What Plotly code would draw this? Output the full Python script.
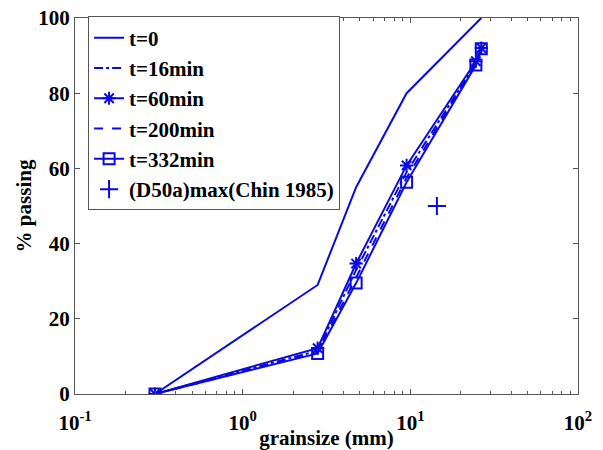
import plotly.graph_objects as go

# grain sizes (mm)
x_t0 = [0.3, 2.8, 4.75, 9.5, 26.5]
y_t0 = [0, 29, 55, 80, 100]

x_g = [0.3, 2.8, 4.75, 9.5, 24.6, 26.5]
y_t16 = [0, 11.5, 33.0, 59.0, 88.0, 91.8]
y_t60 = [0, 12.2, 34.7, 60.8, 88.5, 92.0]
y_t200 = [0, 11.0, 31.0, 57.5, 87.8, 91.5]
y_t332 = [0, 10.8, 29.5, 56.3, 87.5, 91.8]

x_chin = [14.4]
y_chin = [50]

blue = "#0a0ae0"
font_fam = "Liberation Serif"
fs = 21

fig = go.Figure()
fig.add_trace(go.Scatter(x=x_t0, y=y_t0, mode="lines", name="<b>t=0</b>",
                         line=dict(color=blue, width=2)))
fig.add_trace(go.Scatter(x=x_g, y=y_t16, mode="lines", name="<b>t=16min</b>",
                         line=dict(color=blue, width=2, dash="dashdot")))
fig.add_trace(go.Scatter(x=x_g, y=y_t60, mode="lines+markers", name="<b>t=60min</b>",
                         line=dict(color=blue, width=2),
                         marker=dict(symbol="asterisk-open", size=11, color=blue,
                                     line=dict(color=blue, width=2))))
fig.add_trace(go.Scatter(x=x_g, y=y_t200, mode="lines", name="<b>t=200min</b>",
                         line=dict(color=blue, width=2, dash="dash")))
fig.add_trace(go.Scatter(x=x_g, y=y_t332, mode="lines+markers", name="<b>t=332min</b>",
                         line=dict(color=blue, width=2),
                         marker=dict(symbol="square-open", size=11, color=blue,
                                     line=dict(color=blue, width=2))))
fig.add_trace(go.Scatter(x=x_chin, y=y_chin, mode="markers", name="<b>(D50a)max(Chin 1985)</b>",
                         marker=dict(symbol="cross-thin-open", size=13, color=blue,
                                     line=dict(color=blue, width=2))))

xtick_vals = [0.1, 1, 10, 100]
xtick_text = ["<b>10<sup>-1</sup></b>", "<b>10<sup>0</sup></b>", "<b>10<sup>1</sup></b>", "<b>10<sup>2</sup></b>"]
minor_vals = [m * d for d in [0.1, 1, 10] for m in range(2, 10)]

fig.update_layout(
    width=603, height=450,
    margin=dict(l=75, r=25, t=18, b=56),
    plot_bgcolor="white", paper_bgcolor="white",
    font=dict(family=font_fam, size=fs, color="black"),
    showlegend=True,
    legend=dict(x=0.026, y=1.004, xanchor="left", yanchor="top",
                bgcolor="white", bordercolor="#555555", borderwidth=1,
                font=dict(family=font_fam, size=fs, color="black"),
                itemwidth=30, tracegroupgap=0),
)
fig.update_xaxes(
    type="log", range=[-1, 2], automargin=False,
    tickvals=xtick_vals, ticktext=xtick_text,
    ticks="inside", ticklen=5, tickcolor="#555555",
    showline=True, linecolor="#555555", linewidth=1, mirror="allticks",
    showgrid=False, zeroline=False,
    minor=dict(tickvals=minor_vals, ticks="inside", ticklen=3, tickcolor="#555555", showgrid=False),
    tickfont=dict(family=font_fam, size=fs, color="black"),
    ticklabelstandoff=10,
    title=dict(text="<b>grainsize (mm)</b>", font=dict(family=font_fam, size=fs)),
)
fig.update_yaxes(
    range=[0, 100], tickvals=[0, 20, 40, 60, 80, 100], automargin=False,
    ticktext=["<b>%d</b>" % v for v in [0, 20, 40, 60, 80, 100]],
    ticks="inside", ticklen=5, tickcolor="#555555",
    showline=True, linecolor="#555555", linewidth=1, mirror="allticks",
    showgrid=False, zeroline=False,
    tickfont=dict(family=font_fam, size=fs, color="black"),
    title=dict(text="<b>% passing</b>", font=dict(family=font_fam, size=fs), standoff=0),
)

fig.write_html("out.html")
